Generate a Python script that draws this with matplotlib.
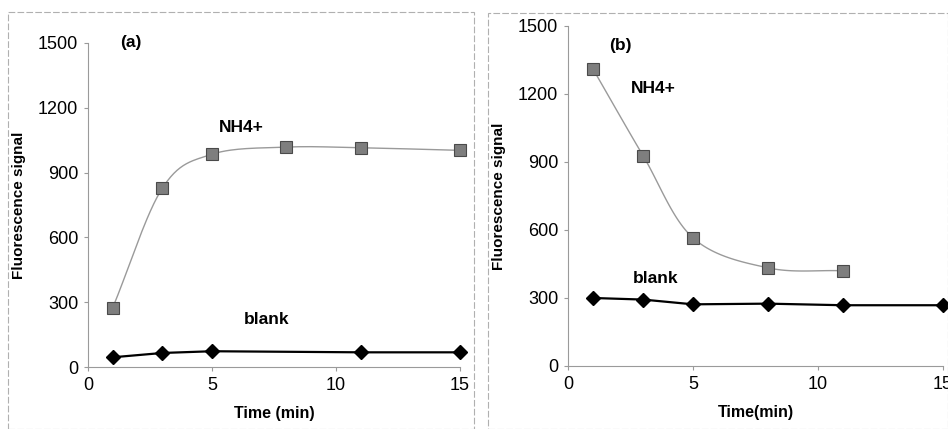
import numpy as np
import matplotlib
matplotlib.use("Agg")
import matplotlib.pyplot as plt
from matplotlib.patches import Rectangle

plt.rcParams["font.family"] = ["Liberation Sans", "DejaVu Sans"]

# panel (a)
a_nh4_t = [1, 3, 5, 8, 11, 15]
a_nh4 = [275, 828, 985, 1018, 1015, 1003]
a_blank_t = [1, 3, 5, 11, 15]
a_blank = [45, 65, 73, 68, 68]

# panel (b)
b_nh4_t = [1, 3, 5, 8, 11]
b_nh4 = [1310, 928, 565, 433, 420]
b_blank_t = [1, 3, 5, 8, 11, 15]
b_blank = [300, 293, 272, 275, 268, 268]

y_ticks = [0, 300, 600, 900, 1200, 1500]
x_ticks = [0, 5, 10, 15]

GREY_LINE = "#9a9a9a"
SQ_FACE = "#7e7e7e"


# -------------------------------------------------------------------------------------------------/
def _smooth(x, y, n=30):
    # Catmull-Rom style curve through the points (like Excel "smoothed line")
    x = np.asarray(x, float); y = np.asarray(y, float)
    px = np.concatenate([[2 * x[0] - x[1]], x, [2 * x[-1] - x[-2]]])
    py = np.concatenate([[2 * y[0] - y[1]], y, [2 * y[-1] - y[-2]]])
    xs, ys = [], []
    t = np.linspace(0, 1, n)
    for i in range(1, len(px) - 2):
        p0, p1, p2, p3 = [np.array([px[j], py[j]]) for j in (i - 1, i, i + 1, i + 2)]
        c1 = p1 + (p2 - p0) / 6.0
        c2 = p2 - (p3 - p1) / 6.0
        pts = ((1 - t) ** 3)[:, None] * p1 + (3 * (1 - t) ** 2 * t)[:, None] * c1 \
            + (3 * (1 - t) * t ** 2)[:, None] * c2 + (t ** 3)[:, None] * p2
        xs.extend(pts[:, 0]); ys.extend(pts[:, 1])
    return np.array(xs), np.array(ys)


# -------------------------------------------------------------------------------------------------/
def _panel(ax, nt, nv, bt, bv, xlabel, tag, tag_xy, nh4_xy, blank_xy):
    sx, sy = _smooth(nt, nv)
    ax.plot(sx, sy, color=GREY_LINE, lw=1.0, zorder=2)
    ax.plot(nt, nv, ls="none", marker="s", ms=8.5, mfc=SQ_FACE, mec="#4a4a4a", mew=0.8, zorder=3)
    ax.plot(bt, bv, color="black", lw=1.6, marker="D", ms=7.5, mfc="black", mec="black", zorder=4)

    ax.set_xlim(0, 15); ax.set_ylim(0, 1500)
    ax.set_xticks(x_ticks); ax.set_yticks(y_ticks)
    ax.tick_params(labelsize=13, color=GREY_LINE, length=3, width=0.8, pad=4)
    for s in ("top", "right"):
        ax.spines[s].set_visible(False)
    for s in ("left", "bottom"):
        ax.spines[s].set_color(GREY_LINE)
        ax.spines[s].set_linewidth(0.8)
    ax.set_ylabel("Fluorescence signal", fontsize=11, fontweight="bold", labelpad=9)
    ax.set_xlabel(xlabel, fontsize=11.5, fontweight="bold", labelpad=9)
    ax.patch.set_alpha(0)
    for ln in ax.lines:
        ln.set_clip_on(False)

    ax.text(*tag_xy, tag, fontsize=12.5, fontweight="bold", ha="left", va="center")
    ax.text(*nh4_xy, "NH4+", fontsize=12.5, fontweight="bold", ha="center", va="center")
    ax.text(*blank_xy, "blank", fontsize=12.5, fontweight="bold", ha="center", va="center")


fig = plt.figure(figsize=(9.48, 4.29), dpi=100)

# outer frames of the two panels
for x0, y0, w in ((8, 12, 466), (488, 13, 460)):
    fig.add_artist(Rectangle((x0 / 948, 0), w / 948, 1 - y0 / 429, transform=fig.transFigure,
                             fill=False, ec="#b0b0b0", lw=0.8, ls=(0, (6, 2))))

ax1 = fig.add_axes([0.0928, 0.1445, 0.3924, 0.7553])
_panel(ax1, a_nh4_t, a_nh4, a_blank_t, a_blank, "Time (min)", "(a)",
       (1.3, 1500), (6.2, 1110), (7.2, 218))

ax2 = fig.add_axes([0.5992, 0.1469, 0.3956, 0.7925])
_panel(ax2, b_nh4_t, b_nh4, b_blank_t, b_blank, "Time(min)", "(b)",
       (1.65, 1415), (3.4, 1226), (3.5, 388))

fig.savefig("out.png", dpi=100)
